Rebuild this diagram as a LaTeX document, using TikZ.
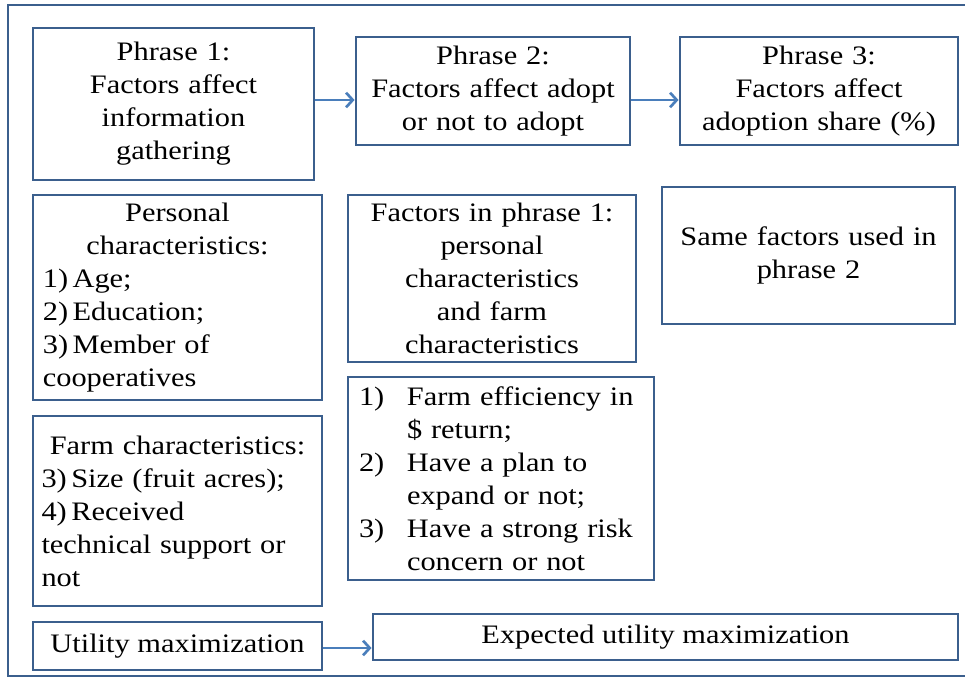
\documentclass[tikz,border=0pt]{standalone}
\usepackage{fontspec}
\setmainfont[FakeStretch=1.14]{Liberation Serif}
\usetikzlibrary{arrows.meta,positioning}
\definecolor{boxline}{HTML}{3B5F8D}
\definecolor{arrowline}{HTML}{4A7EBB}

\begin{document}
\begin{tikzpicture}[x=0.75pt, y=-0.75pt,
  font=\fontsize{20}{24.75}\selectfont,
  box/.style={draw=boxline, line width=2.2pt, inner sep=0pt, align=center},
  link/.style={draw=arrowline, line width=2pt, -{Straight Barb[length=5pt,width=11pt]}}]
  \useasboundingbox (0,0) rectangle (965,678);
  \draw[boxline, line width=1.7pt] (8,5) rectangle (985,676);

  % top row: the three phrases
  \node[box, minimum width=210.75pt, minimum height=114pt, text width=204pt] (phr1) at (173.5,104)
    {Phrase 1:\\Factors affect\\information\\gathering};
  \node[box, minimum width=205.5pt, minimum height=81pt, text width=200pt] (phr2) at (493,91)
    {Phrase 2:\\Factors affect adopt\\or not to adopt};
  \node[box, minimum width=208.5pt, minimum height=81pt, text width=202pt] (phr3) at (819,91)
    {Phrase 3:\\Factors affect\\adoption share (\%)};

  % factors
  \node[box, align=left, minimum width=216.75pt, minimum height=153.75pt, text width=202pt] (pers) at (177.5,297.5)
    {{\centering Personal\\characteristics:\par}1)\,Age;\\2)\,Education;\\3)\,Member of\\cooperatives};
  \node[box, minimum width=216pt, minimum height=125.25pt, text width=210pt] (same1) at (492,278.5)
    {Factors in phrase 1:\\personal\\characteristics\\and farm\\characteristics};
  \node[box, minimum width=219.75pt, minimum height=102.75pt, text width=212pt] (same2) at (808.5,255.5)
    {Same factors used in\\phrase 2};
  \node[box, align=left, minimum width=229.5pt, minimum height=152.25pt, text width=213pt] (extra) at (501,478.5)
    {\makebox[36pt][l]{1)}Farm efficiency in\\\hspace*{36pt}\$ return;\\
     \makebox[36pt][l]{2)}Have a plan to\\\hspace*{36pt}expand or not;\\
     \makebox[36pt][l]{3)}Have a strong risk\\\hspace*{36pt}concern or not};
  \node[box, align=left, minimum width=216.75pt, minimum height=142.5pt, text width=204pt] (farm) at (177.5,511)
    {{\centering Farm characteristics:\par}3)\,Size (fruit acres);\\4)\,Received\\technical support or\\not};

  % bottom row
  \node[box, minimum width=216.75pt, minimum height=36pt] (util) at (177.5,646) {Utility maximization};
  \node[box, minimum width=438.75pt, minimum height=34.5pt] (eutil) at (665.5,637) {Expected utility maximization};

  \draw[link] ([yshift=3pt]phr1.east) -- ([yshift=3pt]phr1.east -| phr2.west);
  \draw[link] ([yshift=-6.75pt]phr2.east) -- ([yshift=-6.75pt]phr2.east -| phr3.west);
  \draw[link] ([yshift=-1.5pt]util.east) -- ([yshift=-1.5pt]util.east -| eutil.west);
\end{tikzpicture}
\end{document}
